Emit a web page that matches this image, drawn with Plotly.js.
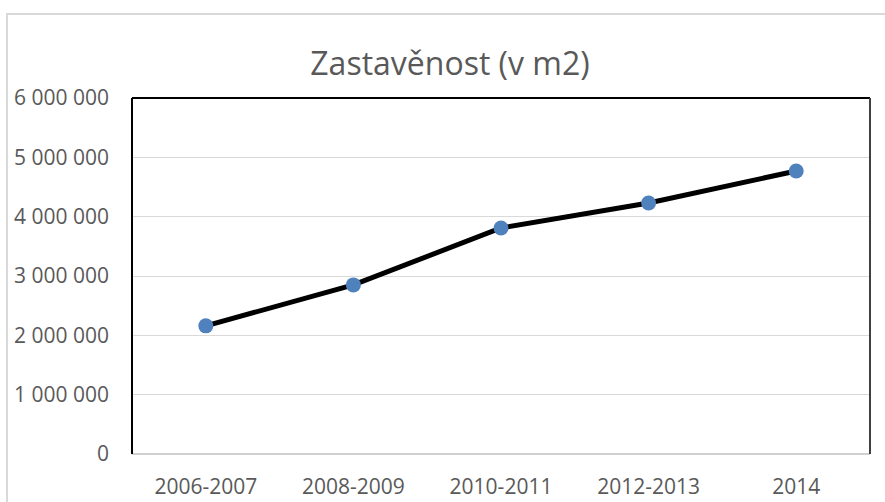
<!DOCTYPE html>
<html>
<head>
<meta charset="utf-8">
<script src="https://cdn.plot.ly/plotly-3.0.1.min.js"></script>
<style>
  html, body { margin: 0; padding: 0; background: #fff; }
  #wrap { position: relative; width: 885px; height: 502px; overflow: hidden; }
  #frame { position: absolute; left: 6px; top: 13px; width: 900px; height: 520px; border: 2px solid #d9d9d9; box-sizing: border-box; }
  #chart { position: absolute; left: 0; top: 0; width: 885px; height: 502px; }
</style>
</head>
<body>
<div id="wrap">
  <div id="frame"></div>
  <div id="chart"></div>
</div>
<script>
const categories = ["2006-2007", "2008-2009", "2010-2011", "2012-2013", "2014"];
const values = [2160000, 2850000, 3810000, 4230000, 4770000];
const yTickVals = [0, 1000000, 2000000, 3000000, 4000000, 5000000, 6000000];
const yTickText = ["0", "1 000 000", "2 000 000", "3 000 000", "4 000 000", "5 000 000", "6 000 000"];
const chartTitle = "Zastavěnost (v m2)";

const font = "Open Sans, Noto Sans, sans-serif";
const trace = {
  x: categories,
  y: values,
  type: "scatter",
  mode: "lines+markers",
  line: { color: "#000000", width: 5 },
  marker: { color: "#4f81bd", size: 15 },
  hoverinfo: "x+y"
};

const layout = {
  width: 885,
  height: 502,
  paper_bgcolor: "rgba(0,0,0,0)",
  plot_bgcolor: "rgba(0,0,0,0)",
  margin: { l: 132, r: 15, t: 98, b: 48 },
  showlegend: false,
  title: {
    text: chartTitle,
    font: { family: font, size: 32, color: "#595959" },
    x: 450 / 885, xref: "container", xanchor: "center",
    y: 1 - 64 / 502, yref: "container", yanchor: "middle"
  },
  xaxis: {
    type: "category",
    range: [-0.5, categories.length - 0.5],
    showgrid: false,
    showline: false,
    zeroline: false,
    ticks: "",
    tickfont: { family: font, size: 21, color: "#595959" },
    ticklabelstandoff: 18
  },
  yaxis: {
    range: [0, 6000000],
    tickvals: yTickVals,
    ticktext: yTickText,
    showgrid: true,
    gridcolor: "#d9d9d9",
    gridwidth: 1,
    zeroline: true,
    zerolinecolor: "#d0d0d0",
    zerolinewidth: 2,
    showline: false,
    ticks: "",
    tickfont: { family: font, size: 21, color: "#595959" },
    ticklabelstandoff: 22
  },
  shapes: [
    { type: "line", xref: "paper", yref: "paper", x0: 0, x1: 1, y0: 1, y1: 1, line: { color: "#000000", width: 2 } },
    { type: "line", xref: "paper", yref: "paper", x0: 0, x1: 0, y0: 0, y1: 1, line: { color: "#000000", width: 2 } },
    { type: "line", xref: "paper", yref: "paper", x0: 1, x1: 1, y0: 0, y1: 1, line: { color: "#404040", width: 2 } }
  ]
};

Plotly.newPlot("chart", [trace], layout, { displayModeBar: false, staticPlot: true });
</script>
</body>
</html>
